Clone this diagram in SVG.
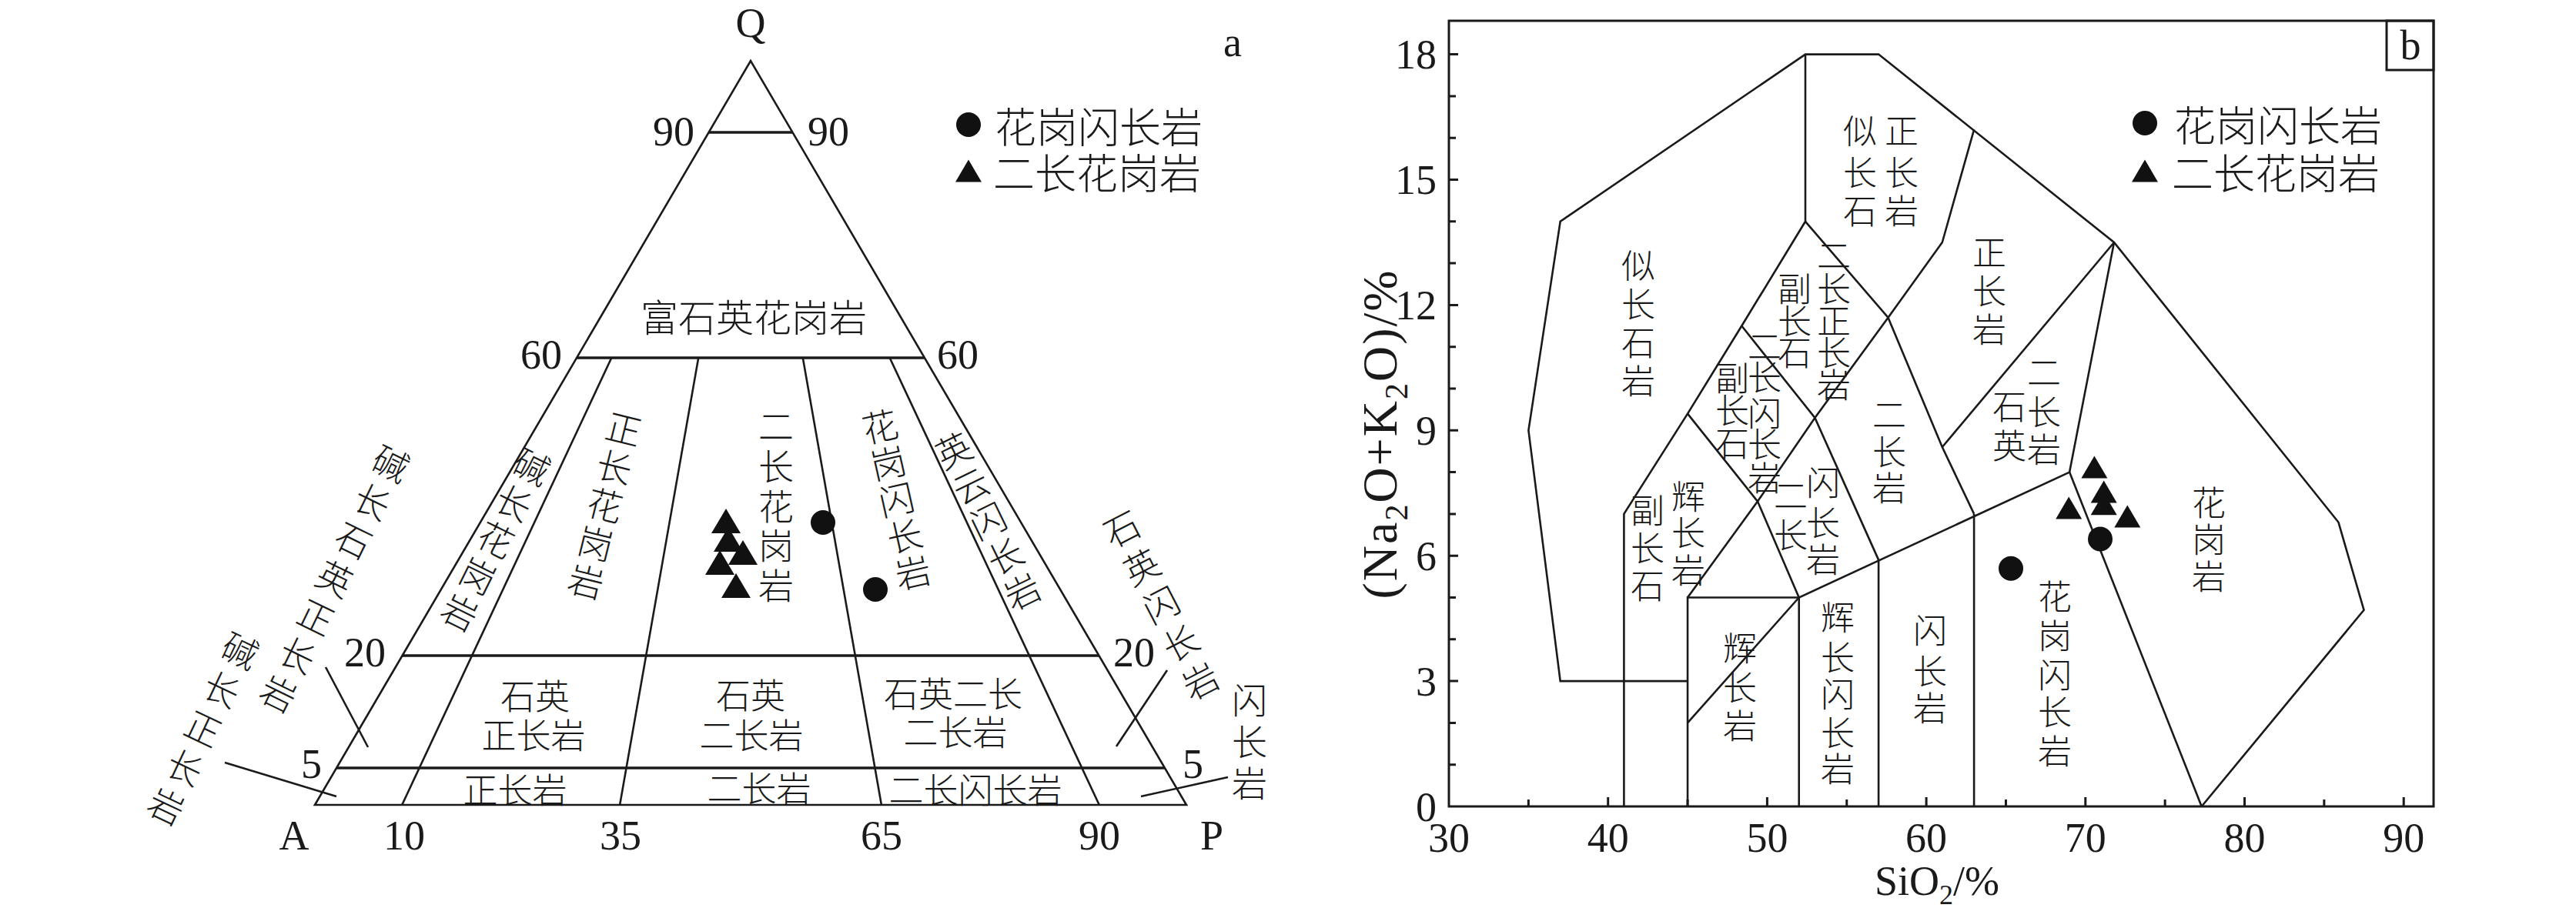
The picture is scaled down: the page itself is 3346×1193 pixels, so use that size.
<svg xmlns="http://www.w3.org/2000/svg" width="3346" height="1193" viewBox="0 0 3346 1193">
<defs>
<style>
.ln{stroke:#1a1a1a;stroke-width:2.6;fill:none;stroke-linejoin:miter}
.hl{stroke:#1a1a1a;stroke-width:3.6;fill:none}
.ax{stroke:#1a1a1a;stroke-width:3;fill:none}
.num{font-family:"Liberation Serif","Times New Roman",serif;font-size:54px;fill:#1a1a1a}
.cj{font-family:"Noto Sans CJK SC","Noto Sans CJK JP",sans-serif;font-weight:300;fill:#1a1a1a;text-anchor:middle;dominant-baseline:central}
.ca{font-size:46px}
.cb{font-size:44px}
.ch{font-size:45px}
.lg{font-family:"Noto Sans CJK SC","Noto Sans CJK JP",sans-serif;font-weight:300;fill:#1a1a1a;font-size:54px;dominant-baseline:central}
.dot{fill:#111}
</style>
<path id="triA" d="M0,-16 L19,16 L-19,16 Z"/>
<path id="triB" d="M0,-14.5 L17,14.5 L-17,14.5 Z"/>
</defs>
<rect width="3346" height="1193" fill="#fff"/>

<g id="panel-a">
  <g id="a-frame">
    <path class="ln" d="M409,1046 L975,79 L1541,1046 Z"/>
    <line class="hl" x1="920.6" y1="172" x2="1029.4" y2="172"/>
    <line class="hl" x1="749.1" y1="465" x2="1200.9" y2="465"/>
    <line class="hl" x1="522.5" y1="852" x2="1427.5" y2="852"/>
    <line class="hl" x1="437.1" y1="998" x2="1512.9" y2="998"/>
    <line class="ln" x1="794.3" y1="465" x2="522.2" y2="1046"/>
    <line class="ln" x1="907.2" y1="465" x2="805.1" y2="1046"/>
    <line class="ln" x1="1042.8" y1="465" x2="1144.9" y2="1046"/>
    <line class="ln" x1="1155.7" y1="465" x2="1427.8" y2="1046"/>
    <line class="ln" x1="423" y1="867" x2="478" y2="971"/>
    <line class="ln" x1="292" y1="991" x2="437" y2="1035"/>
    <line class="ln" x1="1516" y1="871" x2="1450" y2="970"/>
    <line class="ln" x1="1595" y1="1010" x2="1482" y2="1035"/>
  </g>
  <g id="a-scale">
    <text class="num" x="975" y="48" text-anchor="middle">Q</text>
    <text class="num" x="1601" y="73" text-anchor="middle">a</text>
    <text class="num" x="902" y="189" text-anchor="end">90</text>
    <text class="num" x="1049" y="189">90</text>
    <text class="num" x="730" y="479" text-anchor="end">60</text>
    <text class="num" x="1217" y="479">60</text>
    <text class="num" x="501" y="866" text-anchor="end">20</text>
    <text class="num" x="1446" y="866">20</text>
    <text class="num" x="418" y="1011" text-anchor="end">5</text>
    <text class="num" x="1536" y="1011">5</text>
    <text class="num" x="382" y="1104" text-anchor="middle">A</text>
    <text class="num" x="525" y="1104" text-anchor="middle">10</text>
    <text class="num" x="806" y="1104" text-anchor="middle">35</text>
    <text class="num" x="1145" y="1104" text-anchor="middle">65</text>
    <text class="num" x="1428" y="1104" text-anchor="middle">90</text>
    <text class="num" x="1574" y="1104" text-anchor="middle">P</text>
  </g>
  <g id="a-fields">
    <text class="cj" style="font-size:49px" x="979" y="409">富石英花岗岩</text>
    <text id="a-akqs" class="cj ca" transform="rotate(26 509 600)" x="509 509 509 509 509 509 509" y="600 655.5 711 766.5 822 877.5 933">碱长石英正长岩</text>
    <text id="a-aks" class="cj ca" transform="rotate(25.3 313 843)" x="313 313 313 313 313" y="843 899.1 955.2 1011.3 1067.4">碱长正长岩</text>
    <text id="a-akg" class="cj ca" transform="rotate(26.3 692 604)" x="692 692 692 692 692" y="604 656.9 709.8 762.7 815.6">碱长花岗岩</text>
    <text id="a-syg" class="cj ca" transform="rotate(13.9 811 555)" x="811 811 811 811 811" y="555 606.1 657.2 708.3 759.4">正长花岗岩</text>
    <text id="a-mzg" class="cj ca" x="1008 1008 1008 1008 1008" y="551 603 655 706 758">二长花岗岩</text>
    <text id="a-gd" class="cj ca" transform="rotate(-12.7 1142.5 552)" x="1142.5 1142.5 1142.5 1142.5 1142.5" y="552 600.6 649.2 697.8 746.4">花岗闪长岩</text>
    <text id="a-ton" class="cj ca" transform="rotate(-26 1237.5 583)" x="1237.5 1237.5 1237.5 1237.5 1237.5" y="583 634 685 736 787">英云闪长岩</text>
    <text id="a-qd" class="cj ca" transform="rotate(-27.3 1456 685)" x="1456 1456 1456 1456 1456" y="685 740.7 796.4 852.1 907.8">石英闪长岩</text>
    <text id="a-dio" class="cj ca" x="1623 1623 1623" y="907 961 1015">闪长岩</text>
    <text class="cj ch" x="695" y="902">石英</text>
    <text class="cj ch" x="693" y="953">正长岩</text>
    <text class="cj ch" x="975" y="901">石英</text>
    <text class="cj ch" x="976" y="953">二长岩</text>
    <text class="cj ch" x="1238" y="899">石英二长</text>
    <text class="cj ch" x="1241" y="949">二长岩</text>
    <text class="cj ch" x="669" y="1024">正长岩</text>
    <text class="cj ch" x="986" y="1022">二长岩</text>
    <text class="cj ch" x="1267" y="1024">二长闪长岩</text>
  </g>
  <g id="a-data">
    <use href="#triA" class="dot" x="943" y="677"/>
    <use href="#triA" class="dot" x="946" y="701"/>
    <use href="#triA" class="dot" x="965" y="718"/>
    <use href="#triA" class="dot" x="935" y="731"/>
    <use href="#triA" class="dot" x="956" y="761"/>
    <circle class="dot" cx="1069" cy="679" r="16"/>
    <circle class="dot" cx="1137" cy="766" r="16"/>
  </g>
  <g id="a-legend">
    <circle class="dot" cx="1258" cy="162" r="16"/>
    <text class="lg" x="1292" y="162">花岗闪长岩</text>
    <use href="#triB" class="dot" x="1258" y="222"/>
    <text class="lg" x="1290" y="222">二长花岗岩</text>
  </g>
</g>

<g id="panel-b">
  <g id="b-axes">
    <rect class="ax" x="1882" y="27" width="1279" height="1021"/>
    <path class="ax" d="M1985.35,1048v-9 M2088.7,1048v-12 M2192.05,1048v-9 M2295.4,1048v-12 M2398.75,1048v-9 M2502.1,1048v-12 M2605.45,1048v-9 M2708.8,1048v-12 M2812.15,1048v-9 M2915.5,1048v-12 M3018.85,1048v-9 M3122.2,1048v-12"/>
    <path class="ax" d="M1882,993.7h9 M1882,939.4h9 M1882,885.1h12 M1882,830.8h9 M1882,776.5h9 M1882,722.2h12 M1882,667.9h9 M1882,613.6h9 M1882,559.3h12 M1882,505h9 M1882,450.7h9 M1882,396.4h12 M1882,342.1h9 M1882,287.8h9 M1882,233.5h12 M1882,179.2h9 M1882,124.9h9 M1882,70.6h12"/>
    <text class="num" x="1882" y="1107" text-anchor="middle">30</text>
    <text class="num" x="2088.7" y="1107" text-anchor="middle">40</text>
    <text class="num" x="2295.4" y="1107" text-anchor="middle">50</text>
    <text class="num" x="2502.1" y="1107" text-anchor="middle">60</text>
    <text class="num" x="2708.8" y="1107" text-anchor="middle">70</text>
    <text class="num" x="2915.5" y="1107" text-anchor="middle">80</text>
    <text class="num" x="3122.2" y="1107" text-anchor="middle">90</text>
    <text class="num" x="1866" y="1067" text-anchor="end">0</text>
    <text class="num" x="1866" y="904" text-anchor="end">3</text>
    <text class="num" x="1866" y="741" text-anchor="end">6</text>
    <text class="num" x="1866" y="578" text-anchor="end">9</text>
    <text class="num" x="1866" y="415" text-anchor="end">12</text>
    <text class="num" x="1866" y="252" text-anchor="end">15</text>
    <text class="num" x="1866" y="89" text-anchor="end">18</text>
    <text class="num" x="2516" y="1163" text-anchor="middle">SiO<tspan dy="12" font-size="36">2</tspan><tspan dy="-12">/%</tspan></text>
    <text class="num" style="font-size:64px;letter-spacing:2px" transform="rotate(-90 1814 564)" x="1814" y="564" text-anchor="middle">(Na<tspan dy="14" font-size="42">2</tspan><tspan dy="-14">O+K</tspan><tspan dy="14" font-size="42">2</tspan><tspan dy="-14">O)/%</tspan></text>
    <rect class="ax" x="3100" y="27" width="61" height="64"/>
    <text class="num" x="3131" y="77" text-anchor="middle">b</text>
  </g>
  <g id="b-boundaries">
    <path class="ln" d="M2192.05,885.1 L2026.7,885.1 L1985.4,559.3 L2026.7,287.8 L2345,70.6 L2440.1,70.6 L2746,315 L3037.5,678.8 L3070.5,792.8 L2859.7,1048"/>
    <path class="ln" d="M2109.4,1048 L2109.4,667.9 L2192.05,537.6 L2262.3,423.55 L2345,287.8 L2345,70.6"/>
    <path class="ln" d="M2192.05,1048 L2192.05,776.5 L2336.7,776.5 L2336.7,1048"/>
    <path class="ln" d="M2192.05,939.4 L2336.7,776.5 L2688.1,613.6 L2746,315"/>
    <path class="ln" d="M2440.1,1048 L2440.1,727.6"/>
    <path class="ln" d="M2564.1,1048 L2564.1,667.9"/>
    <path class="ln" d="M2688.1,613.6 L2859.7,1048"/>
    <path class="ln" d="M2192.05,776.5 L2283,651.6 L2357.4,543 L2452.5,412.7"/>
    <path class="ln" d="M2192.05,537.6 L2283,651.6 L2336.7,776.5"/>
    <path class="ln" d="M2262.3,423.55 L2357.4,543 L2440.1,727.6"/>
    <path class="ln" d="M2345,287.8 L2452.5,412.7 L2522.8,581 L2564.1,667.9"/>
    <path class="ln" d="M2452.5,412.7 L2522.8,315 L2564.1,168.3"/>
    <path class="ln" d="M2522.8,581 L2746,315"/>
  </g>
  <g id="b-fields">
    <text id="b-foid" class="cj cb" x="2128 2128 2128 2128" y="343 393 443 493">似长石岩</text>
    <text id="b-foidsy1" class="cj cb" x="2416 2416 2416" y="168 222 272">似长石</text>
    <text id="b-foidsy2" class="cj cb" x="2470 2470 2470" y="168 222 272">正长岩</text>
    <text id="b-sy" class="cj cb" x="2584 2584 2584" y="326 376 426">正长岩</text>
    <text id="b-foidmsy1" class="cj cb" x="2331 2331 2331" y="373 415 456">副长石</text>
    <text id="b-foidmsy2" class="cj cb" x="2382 2382 2382 2382 2382" y="330 373 415 456 498">二长正长岩</text>
    <text id="b-foidmd1" class="cj cb" x="2250 2250 2250" y="489 531 574">副长石</text>
    <text id="b-foidmd2" class="cj cb" x="2292 2292 2292 2292 2292" y="448 488 535 575 619">二长闪长岩</text>
    <text id="b-md1" class="cj cb" x="2326 2326" y="642 693">二长</text>
    <text id="b-md2" class="cj cb" x="2368 2368 2368" y="625 677 725">闪长岩</text>
    <text id="b-mz" class="cj cb" x="2454 2454 2454" y="537 585 632">二长岩</text>
    <text id="b-foidg1" class="cj cb" x="2140 2140 2140" y="661 710 759">副长石</text>
    <text id="b-foidg2" class="cj cb" x="2193 2193 2193" y="643 690 739">辉长岩</text>
    <text id="b-gab" class="cj cb" x="2260 2260 2260" y="840 891 941">辉长岩</text>
    <text id="b-gbd" class="cj cb" x="2387 2387 2387 2387 2387" y="800 852 900 950 997">辉长闪长岩</text>
    <text id="b-dio" class="cj cb" x="2507 2507 2507" y="817 870 918">闪长岩</text>
    <text id="b-grd" class="cj cb" x="2669 2669 2669 2669 2669" y="773 824 875 923 974">花岗闪长岩</text>
    <text id="b-gr" class="cj cb" x="2869 2869 2869" y="651 699 747">花岗岩</text>
    <text id="b-qmz1" class="cj cb" x="2610 2610" y="526 577">石英</text>
    <text id="b-qmz2" class="cj cb" x="2655 2655 2655" y="482 533 582">二长岩</text>
  </g>
  <g id="b-data">
    <use href="#triB" class="dot" x="2720.4" y="607"/>
    <use href="#triB" class="dot" x="2732.7" y="639"/>
    <use href="#triB" class="dot" x="2732.7" y="654.7"/>
    <use href="#triB" class="dot" x="2687.2" y="660"/>
    <use href="#triB" class="dot" x="2763.3" y="671"/>
    <circle class="dot" cx="2728" cy="700.5" r="16"/>
    <circle class="dot" cx="2612" cy="738.8" r="16"/>
  </g>
  <g id="b-legend">
    <circle class="dot" cx="2786" cy="160" r="16"/>
    <text class="lg" x="2824" y="160">花岗闪长岩</text>
    <use href="#triB" class="dot" x="2786" y="222"/>
    <text class="lg" x="2821" y="222">二长花岗岩</text>
  </g>
</g>
</svg>
